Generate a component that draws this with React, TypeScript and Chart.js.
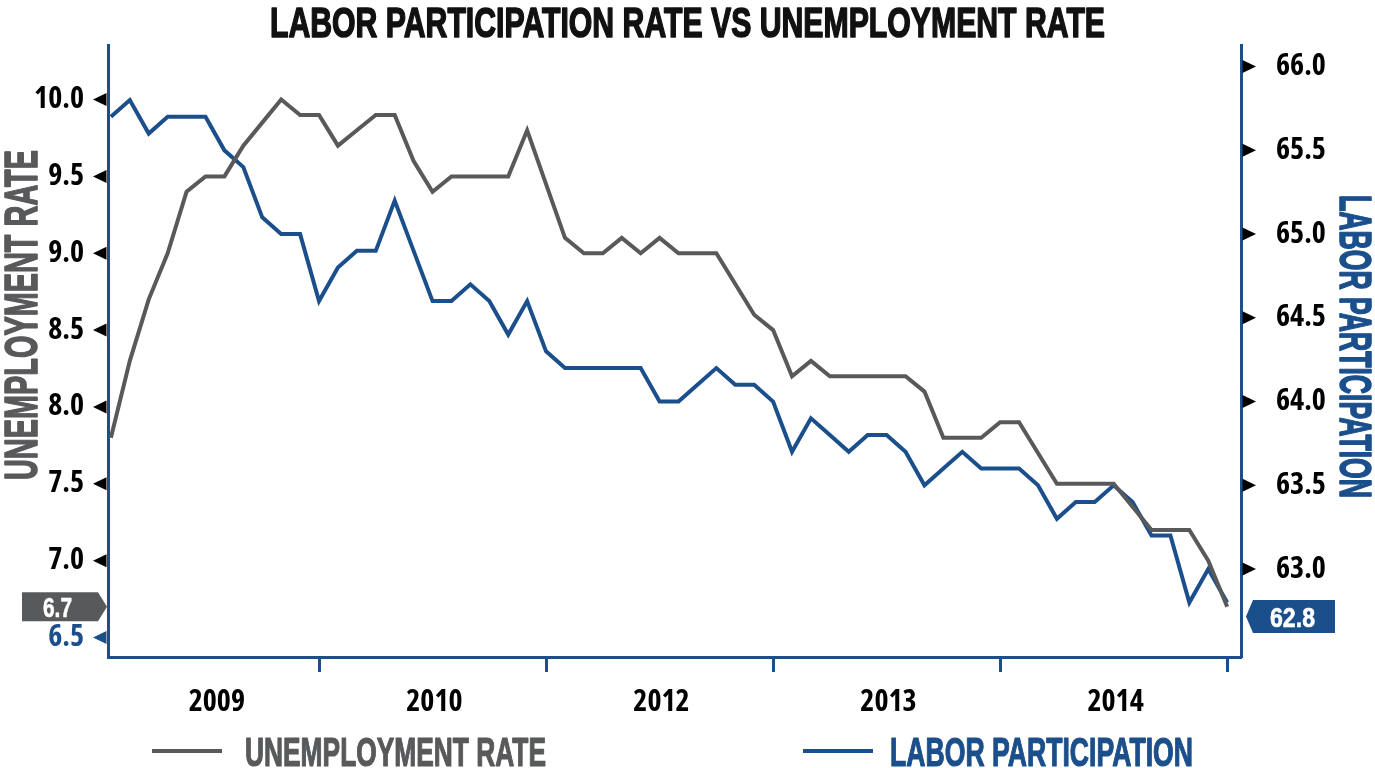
import React, { useEffect, useRef } from "react";
import { Chart, registerables } from "chart.js";

Chart.register(...registerables);

const BLUE = "#1b4f8c";
const GRAY = "#58595b";
const FONT = "'Liberation Sans Narrow', 'Liberation Sans', sans-serif";
const TICK_FAMILY = "'Open Sans', 'Liberation Sans', sans-serif";

// Monthly values, January 2009 – December 2013
const unemploymentRate = [
  7.8, 8.3, 8.7, 9.0, 9.4, 9.5, 9.5, 9.7, 9.85, 10.0, 9.9, 9.9,
  9.7, 9.8, 9.9, 9.9, 9.6, 9.4, 9.5, 9.5, 9.5, 9.5, 9.8, 9.45,
  9.1, 9.0, 9.0, 9.1, 9.0, 9.1, 9.0, 9.0, 9.0, 8.8, 8.6, 8.5,
  8.2, 8.3, 8.2, 8.2, 8.2, 8.2, 8.2, 8.1, 7.8, 7.8, 7.8, 7.9,
  7.9, 7.7, 7.5, 7.5, 7.5, 7.5, 7.35, 7.2, 7.2, 7.2, 7.0, 6.7,
];
const laborParticipation = [
  65.7, 65.8, 65.6, 65.7, 65.7, 65.7, 65.5, 65.4, 65.1, 65.0, 65.0, 64.6,
  64.8, 64.9, 64.9, 65.2, 64.9, 64.6, 64.6, 64.7, 64.6, 64.4, 64.6, 64.3,
  64.2, 64.2, 64.2, 64.2, 64.2, 64.0, 64.0, 64.1, 64.2, 64.1, 64.1, 64.0,
  63.7, 63.9, 63.8, 63.7, 63.8, 63.8, 63.7, 63.5, 63.6, 63.7, 63.6, 63.6,
  63.6, 63.5, 63.3, 63.4, 63.4, 63.5, 63.4, 63.2, 63.2, 62.8, 63.0, 62.8,
];

// x-axis: year labels (as printed) and their month positions; boundary tick months
const yearLabels = ["2009", "2010", "2012", "2013", "2014"];
const yearLabelMonths = [5.6, 17.1, 29.1, 41.1, 53.1];
const yearTickMonths = [11, 23, 35, 47, 59];

const unemploymentTicks = [6.5, 7.0, 7.5, 8.0, 8.5, 9.0, 9.5, 10.0];
const laborTicks = [63.0, 63.5, 64.0, 64.5, 65.0, 65.5, 66.0];

const TITLE = "LABOR PARTICIPATION RATE VS UNEMPLOYMENT RATE";
const LEFT_TITLE = "UNEMPLOYMENT RATE";
const RIGHT_TITLE = "LABOR PARTICIPATION";

function fitText(
  ctx: CanvasRenderingContext2D,
  text: string,
  x: number,
  y: number,
  width: number,
  size: number,
  color: string,
  rotation = 0,
  align: "center" | "left" = "center",
  heavy = 1.4
) {
  ctx.save();
  ctx.translate(x, y);
  ctx.rotate(rotation);
  ctx.font = `bold ${size}px ${FONT}`;
  const w = ctx.measureText(text).width;
  ctx.scale(width / w, 1);
  ctx.fillStyle = color;
  ctx.strokeStyle = color;
  ctx.lineWidth = heavy;
  ctx.lineJoin = "round";
  ctx.textAlign = "left";
  ctx.textBaseline = "alphabetic";
  const tx = align === "center" ? -w / 2 : 0;
  ctx.fillText(text, tx, 0);
  if (heavy > 0) ctx.strokeText(text, tx, 0);
  ctx.restore();
}

const decorations = {
  id: "decorations",
  afterDraw(chart: any) {
    const { ctx, scales, chartArea: area } = chart;
    const x = scales.x;
    const y = scales.y;
    const y1 = scales.y1;
    ctx.save();

    // left tick triangles
    y.ticks.forEach((t: any) => {
      const py = y.getPixelForValue(t.value);
      ctx.fillStyle = t.value === unemploymentTicks[0] ? BLUE : "#000";
      ctx.beginPath();
      ctx.moveTo(area.left - 15, py);
      ctx.lineTo(area.left - 1.5, py - 6.5);
      ctx.lineTo(area.left - 1.5, py + 6.5);
      ctx.closePath();
      ctx.fill();
    });
    // right tick triangles
    y1.ticks.forEach((t: any) => {
      const py = y1.getPixelForValue(t.value);
      ctx.fillStyle = "#000";
      ctx.beginPath();
      ctx.moveTo(area.right + 15, py);
      ctx.lineTo(area.right + 1.5, py - 6.5);
      ctx.lineTo(area.right + 1.5, py + 6.5);
      ctx.closePath();
      ctx.fill();
    });
    // x boundary ticks
    ctx.strokeStyle = BLUE;
    ctx.lineWidth = 3;
    yearTickMonths.forEach((m) => {
      const px = Math.round(x.getPixelForValue(m)) + 0.5;
      ctx.beginPath();
      ctx.moveTo(px, area.bottom);
      ctx.lineTo(px, area.bottom + 15);
      ctx.stroke();
    });

    // last-value badges
    const lastU = unemploymentRate[unemploymentRate.length - 1];
    const pyU = y.getPixelForValue(lastU);
    ctx.fillStyle = GRAY;
    ctx.beginPath();
    ctx.moveTo(22, pyU - 14.5);
    ctx.lineTo(area.left - 10, pyU - 14.5);
    ctx.lineTo(area.left - 1, pyU);
    ctx.lineTo(area.left - 10, pyU + 14.5);
    ctx.lineTo(22, pyU + 14.5);
    ctx.closePath();
    ctx.fill();

    const lastL = laborParticipation[laborParticipation.length - 1];
    const pyL = y1.getPixelForValue(lastL) + 14;
    ctx.fillStyle = BLUE;
    ctx.beginPath();
    ctx.moveTo(area.right + 5, pyL);
    ctx.lineTo(area.right + 12, pyL - 16.5);
    ctx.lineTo(1335, pyL - 16.5);
    ctx.lineTo(1335, pyL + 16.5);
    ctx.lineTo(area.right + 12, pyL + 16.5);
    ctx.closePath();
    ctx.fill();
    ctx.restore();

    fitText(ctx, lastU.toFixed(1), 57.5, pyU + 10, 29, 28, "#fff", 0, "center", 0.6);
    fitText(ctx, lastL.toFixed(1), 1292.5, pyL + 10, 45, 28, "#fff", 0, "center", 0.6);

    // title, axis titles, legend
    fitText(ctx, TITLE, 687.5, 37, 835, 43, "#111", 0, "center", 1.6);
    fitText(ctx, LEFT_TITLE, 37, 315, 330, 47, GRAY, -Math.PI / 2, "center", 1.6);
    fitText(ctx, RIGHT_TITLE, 1340, 346.5, 303, 45, BLUE, Math.PI / 2, "center", 1.6);

    ctx.save();
    ctx.lineWidth = 4;
    ctx.strokeStyle = GRAY;
    ctx.beginPath();
    ctx.moveTo(152, 751);
    ctx.lineTo(222, 751);
    ctx.stroke();
    ctx.strokeStyle = BLUE;
    ctx.beginPath();
    ctx.moveTo(803, 751);
    ctx.lineTo(873, 751);
    ctx.stroke();
    ctx.restore();
    fitText(ctx, LEFT_TITLE, 245, 766, 301, 40, GRAY, 0, "left", 1.2);
    fitText(ctx, RIGHT_TITLE, 890, 766, 303, 40, BLUE, 0, "left", 1.2);
  },
};

export default function App() {
  const ref = useRef<HTMLCanvasElement>(null);

  useEffect(() => {
    const tickFont = { family: TICK_FAMILY, size: 30, weight: "bold condensed" as any };
    const chart = new Chart(ref.current as HTMLCanvasElement, {
      type: "line",
      data: {
        datasets: [
          {
            label: LEFT_TITLE,
            data: unemploymentRate.map((v, i) => ({ x: i, y: v })),
            yAxisID: "y",
            borderColor: GRAY,
            borderWidth: 4,
            pointRadius: 0,
            tension: 0,
            borderJoinStyle: "miter",
            fill: false,
          },
          {
            label: RIGHT_TITLE,
            data: laborParticipation.map((v, i) => ({ x: i, y: v })),
            yAxisID: "y1",
            borderColor: BLUE,
            borderWidth: 4,
            pointRadius: 0,
            tension: 0,
            borderJoinStyle: "miter",
            fill: false,
          },
        ],
      },
      options: {
        responsive: false,
        animation: false,
        devicePixelRatio: 1,
        layout: { padding: { top: 45, left: 0, right: 0, bottom: 0 } },
        plugins: {
          legend: { display: false },
          title: { display: false },
          tooltip: { enabled: false },
        },
        scales: {
          x: {
            type: "linear",
            min: -0.153,
            max: 59.73,
            afterBuildTicks: (s: any) => {
              s.ticks = yearLabelMonths.map((v) => ({ value: v }));
            },
            afterFit: (s: any) => {
              s.height = 111;
            },
            ticks: {
              autoSkip: false,
              maxRotation: 0,
              padding: 19,
              color: "#000",
              font: tickFont,
              callback: (_v: any, i: number) => yearLabels[i],
            },
            grid: { display: false },
            border: { display: true, color: BLUE, width: 3 },
          },
          y: {
            type: "linear",
            position: "left",
            min: 6.373,
            max: 10.355,
            afterBuildTicks: (s: any) => {
              s.ticks = unemploymentTicks.map((v) => ({ value: v }));
            },
            afterFit: (s: any) => {
              s.width = 108;
            },
            ticks: {
              padding: 16,
              font: tickFont,
              color: (c: any) => (c.tick && c.tick.value === unemploymentTicks[0] ? BLUE : "#000"),
              callback: (v: any) => Number(v).toFixed(1),
            },
            grid: { display: false },
            border: { display: true, color: BLUE, width: 3 },
          },
          y1: {
            type: "linear",
            position: "right",
            min: 62.475,
            max: 66.129,
            afterBuildTicks: (s: any) => {
              s.ticks = laborTicks.map((v) => ({ value: v }));
            },
            afterFit: (s: any) => {
              s.width = 134;
            },
            ticks: {
              padding: 27,
              font: tickFont,
              color: "#000",
              callback: (v: any) => Number(v).toFixed(1),
            },
            grid: { display: false },
            border: { display: true, color: BLUE, width: 3 },
          },
        },
      },
      plugins: [decorations],
    });
    return () => chart.destroy();
  }, []);

  return (
    <div style={{ position: "absolute", left: 0, top: 0, width: 1375, height: 768, background: "#fff" }}>
      <canvas ref={ref} width={1375} height={768} style={{ display: "block", width: 1375, height: 768 }} />
    </div>
  );
}
